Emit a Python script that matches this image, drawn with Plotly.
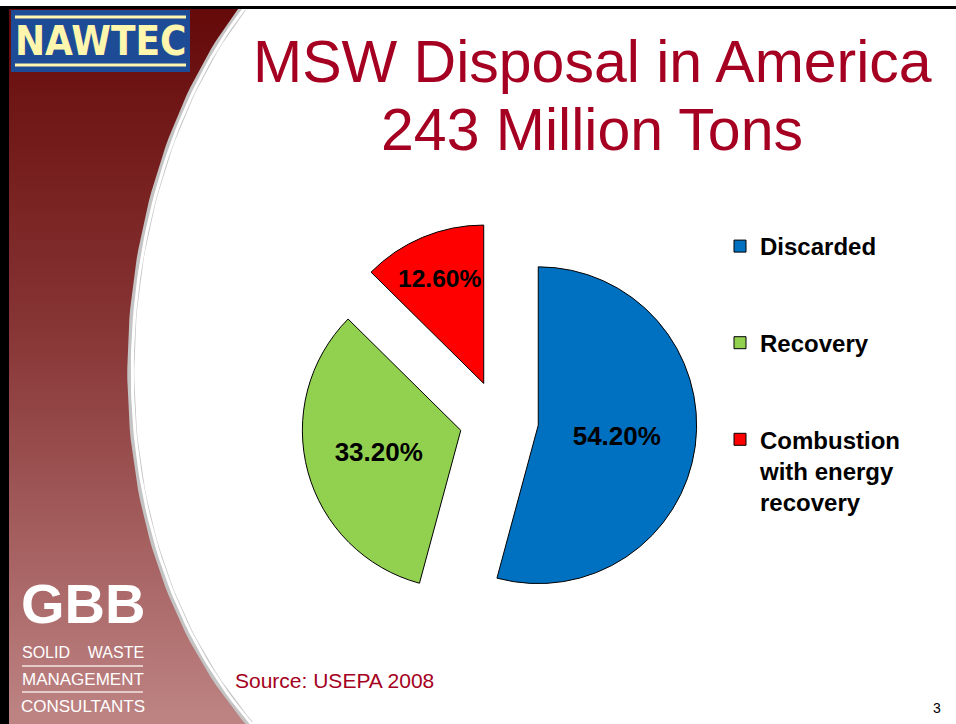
import numpy as np
import plotly.graph_objects as go

W, H = 956, 724

# ---- data ----
categories = ["Discarded", "Recovery", "Combustion<br>with energy<br>recovery"]
shares = [54.2, 33.2, 12.6]
slice_colors = ["#0070C0", "#92D050", "#FF0000"]
title_line1 = "MSW Disposal in America"
title_line2 = "243 Million Tons"
source_note = "Source: USEPA 2008"
page_number = "3"

# legend entries padded to equal height (3 lines) so items are evenly spaced
legend_names = []
for c in categories:
    n = c.count("<br>") + 1
    legend_names.append(c + "<br>\u00a0" * (3 - n))

TXT = "Liberation Sans, Arial, Helvetica, sans-serif"
RED = "#A50021"

fig = go.Figure()

# ---- decorative left band (slide template) ----
def bezier(p0, p1, p2, p3, n=80):
    t = np.linspace(0, 1, n)[:, None]
    pts = ((1 - t) ** 3) * np.array(p0) + 3 * ((1 - t) ** 2) * t * np.array(p1) \
        + 3 * (1 - t) * t ** 2 * np.array(p2) + t ** 3 * np.array(p3)
    return pts[:, 0], pts[:, 1]

cx_, cy_ = bezier((243, 8), (110, 180), (75, 520), (250, 724))
bx = [0] + list(cx_) + [0, 0]
by = [8] + list(cy_) + [H, 8]
fig.add_trace(go.Scatter(
    x=bx, y=by, mode="lines", fill="toself", line=dict(width=0),
    fillgradient=dict(type="vertical", start=0, stop=H,
                      colorscale=[[0, "#640808"], [0.45, "#873434"], [1, "#BE8484"]]),
    hoverinfo="skip", showlegend=False))
fig.add_trace(go.Scatter(x=cx_, y=cy_, mode="lines", line=dict(color="#C4C4C4", width=7),
                         hoverinfo="skip", showlegend=False))
fig.add_trace(go.Scatter(x=cx_ + 1.5, y=cy_, mode="lines", line=dict(color="#FFFFFF", width=3),
                         hoverinfo="skip", showlegend=False))

# ---- the pie ----
cxp, cyp, half = 499, 420, 198
fig.add_trace(go.Pie(
    labels=legend_names, values=shares, sort=False, direction="clockwise", rotation=0,
    pull=[0.25, 0.25, 0.25],
    marker=dict(colors=slice_colors, line=dict(color="#000000", width=1)),
    texttemplate="%{value:.2f}%", textposition="inside", insidetextorientation="horizontal",
    textfont=dict(family=TXT, size=26, color="#000000", weight="bold"),
    domain=dict(x=[(cxp - half) / W, (cxp + half) / W],
                y=[(H - cyp - half) / H, (H - cyp + half) / H]),
    hoverinfo="label+percent"))

shapes = [
    dict(type="rect", xref="x", yref="y", x0=0, x1=9, y0=6, y1=H, fillcolor="#000000", line_width=0),
    dict(type="rect", xref="x", yref="y", x0=0, x1=W, y0=6, y1=9, fillcolor="#000000", line_width=0),
    dict(type="rect", xref="x", yref="y", x0=11, x1=190, y0=10, y1=72, fillcolor="#1E4B96", line_width=0),
    dict(type="line", xref="x", yref="y", x0=15, x1=186, y0=17, y1=17, line=dict(color="#FFF6B0", width=3)),
    dict(type="line", xref="x", yref="y", x0=15, x1=186, y0=65, y1=65, line=dict(color="#FFF6B0", width=3)),
    dict(type="line", xref="x", yref="y", x0=22, x1=143, y0=666, y1=666, line=dict(color="#F4E6E6", width=1.5)),
    dict(type="line", xref="x", yref="y", x0=22, x1=143, y0=692, y1=692, line=dict(color="#F4E6E6", width=1.5)),
]

annotations = [
    dict(text=title_line1, x=592, y=62, xref="x", yref="y", showarrow=False,
         xanchor="center", yanchor="middle", font=dict(family=TXT, size=59, color=RED)),
    dict(text=title_line2, x=592, y=130, xref="x", yref="y", showarrow=False,
         xanchor="center", yanchor="middle", font=dict(family=TXT, size=59, color=RED)),
    dict(text=source_note, x=233, y=680, xref="x", yref="y", showarrow=False,
         xanchor="left", yanchor="middle", font=dict(family=TXT, size=21, color=RED)),
    dict(text=page_number, x=937, y=708, xref="x", yref="y", showarrow=False,
         xanchor="center", yanchor="middle", font=dict(family=TXT, size=14, color="#000000")),
    dict(text="NAWTEC", x=100, y=41, xref="x", yref="y", showarrow=False,
         xanchor="center", yanchor="middle",
         font=dict(family="Liberation Sans Narrow, DejaVu Sans Condensed, sans-serif",
                   size=40, color="#FFF6AE", weight="bold")),
    dict(text="GBB", x=83, y=603, xref="x", yref="y", showarrow=False,
         xanchor="center", yanchor="middle",
         font=dict(family=TXT, size=56, color="#FFFFFF", weight="bold")),
    dict(text="SOLID\u00a0\u00a0\u00a0\u00a0WASTE", x=83, y=652, xref="x", yref="y", showarrow=False,
         xanchor="center", yanchor="middle", font=dict(family=TXT, size=16, color="#FFFFFF")),
    dict(text="MANAGEMENT", x=83, y=679, xref="x", yref="y", showarrow=False,
         xanchor="center", yanchor="middle", font=dict(family=TXT, size=17, color="#FFFFFF")),
    dict(text="CONSULTANTS", x=83, y=706, xref="x", yref="y", showarrow=False,
         xanchor="center", yanchor="middle", font=dict(family=TXT, size=17, color="#FFFFFF")),
]

fig.update_layout(
    width=W, height=H, margin=dict(l=0, r=0, t=0, b=0),
    paper_bgcolor="#FFFFFF", plot_bgcolor="rgba(0,0,0,0)",
    xaxis=dict(range=[0, W], visible=False, fixedrange=True, domain=[0, 1]),
    yaxis=dict(range=[H, 0], visible=False, fixedrange=True, domain=[0, 1]),
    showlegend=True,
    legend=dict(x=720 / W, xanchor="left", y=(H - 224) / H, yanchor="top",
                valign="top", bgcolor="rgba(0,0,0,0)", borderwidth=0,
                font=dict(family=TXT, size=24, color="#000000", weight="bold"),
                traceorder="normal"),
    shapes=shapes, annotations=annotations,
)

fig.write_html("out.html", config={"displayModeBar": False},
               post_script="document.body.style.margin='0px';document.body.style.overflow='hidden';")
